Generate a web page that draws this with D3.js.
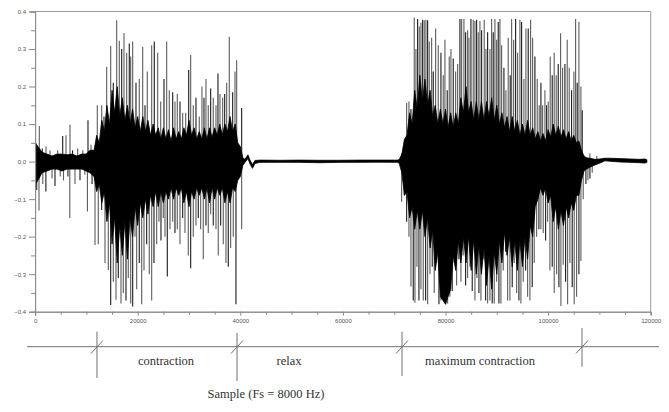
<!DOCTYPE html>
<html><head><meta charset="utf-8">
<script src="https://cdn.jsdelivr.net/npm/d3@7"></script>
<style>html,body{margin:0;padding:0;background:#fff;}svg{display:block;}</style>
</head><body>
<svg id="chart" width="669" height="412"></svg>
<script>
// ---------- DATA ----------
const xTickValues = [0, 20000, 40000, 60000, 80000, 100000, 120000];
const xMinorTicks = [5000,10000,15000,25000,30000,35000,45000,50000,55000,65000,70000,75000,85000,90000,95000,105000,110000,115000];
const yTickValues = [-0.4,-0.3,-0.2,-0.1,0.0,0.1,0.2,0.3,0.4];
const yMinorTicks = [-0.35,-0.25,-0.15,-0.05,0.05,0.15,0.25,0.35];

// dense black band of the signal, read region by region: sample, top, bottom
const restCoreX = [78,565,1345,2320,3294,4269,5243,6218,7192,8167,9141,9921,10700,11100];
const restCoreTop = [0.05,0.04,0.025,0.02,0.015,0.02,0.02,0.018,0.02,0.015,0.02,0.02,0.03,0.03];
const restCoreBot = [-0.06,-0.05,-0.03,-0.025,-0.02,-0.02,-0.025,-0.02,-0.02,-0.02,-0.02,-0.025,-0.03,-0.035];

const contrCoreX = [11500,12000,12500,13000,13500,14000,14500,15000,15500,16000,16500,17000,17500,18000,18500,19000,19500,20000,20500,21000,21500,22000,22500,23000,23500,24000,24500,25000,25500,26000,26500,27000,27500,28000,28500,29000,29500,30000,30500,31000,31500,32000,32500,33000,33500,34000,34500,35000,35500,36000,36500,37000,37500,38000,38500,39000,39500,40000,40500];
const contrCoreTop = [0.03,0.07,0.05,0.11,0.08,0.15,0.1,0.19,0.13,0.2,0.12,0.17,0.11,0.15,0.1,0.14,0.09,0.12,0.08,0.12,0.08,0.11,0.07,0.1,0.07,0.09,0.06,0.09,0.06,0.085,0.055,0.09,0.06,0.08,0.06,0.09,0.07,0.11,0.07,0.09,0.06,0.08,0.06,0.09,0.06,0.09,0.065,0.09,0.07,0.1,0.07,0.1,0.08,0.12,0.08,0.1,0.05,0.04,0.01];
const contrCoreBot = [-0.04,-0.08,-0.06,-0.11,-0.08,-0.16,-0.11,-0.22,-0.15,-0.27,-0.17,-0.25,-0.16,-0.26,-0.15,-0.2,-0.12,-0.17,-0.11,-0.15,-0.1,-0.14,-0.09,-0.12,-0.08,-0.12,-0.08,-0.11,-0.08,-0.1,-0.07,-0.1,-0.07,-0.09,-0.07,-0.11,-0.08,-0.12,-0.08,-0.1,-0.07,-0.09,-0.07,-0.1,-0.07,-0.11,-0.07,-0.1,-0.07,-0.09,-0.07,-0.11,-0.08,-0.11,-0.07,-0.08,-0.05,-0.04,-0.01];

const relaxCoreX = [40910,41495,41884,42372,42859,43833,47731,51629,55527,59425,63323,67221,70729];
const relaxCoreTop = [0.006,0.018,0.004,-0.008,0.003,0.004,0.0035,0.004,0.0035,0.0035,0.004,0.004,0.004];
const relaxCoreBot = [-0.002,0.008,-0.006,-0.018,-0.005,-0.002,-0.002,-0.002,-0.003,-0.002,-0.002,-0.0015,-0.002];

const maxCoreX = [71000,71500,72000,72500,73000,73500,74000,74500,75000,75500,76000,76500,77000,77500,78000,78500,79000,79500,80000,80500,81000,81500,82000,82500,83000,83500,84000,84500,85000,85500,86000,86500,87000,87500,88000,88500,89000,89500,90000,90500,91000,91500,92000,92500,93000,93500,94000,94500,95000,95500,96000,96500,97000,97500,98000,98500,99000,99500,100000,100500,101000,101500,102000,102500,103000,103500,104000,104500,105000,105500,106000,106500,107000];
const maxCoreTop = [0.006,0.02,0.06,0.07,0.13,0.1,0.19,0.14,0.23,0.16,0.22,0.15,0.19,0.12,0.15,0.1,0.14,0.1,0.14,0.09,0.13,0.09,0.13,0.1,0.17,0.13,0.2,0.13,0.16,0.11,0.16,0.11,0.16,0.11,0.16,0.12,0.17,0.11,0.15,0.1,0.13,0.09,0.12,0.08,0.12,0.08,0.11,0.07,0.1,0.07,0.11,0.07,0.09,0.06,0.08,0.055,0.075,0.055,0.085,0.065,0.1,0.07,0.095,0.065,0.085,0.06,0.08,0.055,0.07,0.05,0.055,0.03,0.015];
const maxCoreBot = [-0.006,-0.03,-0.09,-0.08,-0.15,-0.12,-0.18,-0.13,-0.18,-0.13,-0.2,-0.15,-0.23,-0.18,-0.29,-0.24,-0.36,-0.37,-0.38,-0.36,-0.34,-0.25,-0.29,-0.21,-0.27,-0.2,-0.27,-0.2,-0.29,-0.21,-0.3,-0.22,-0.3,-0.23,-0.33,-0.25,-0.34,-0.24,-0.3,-0.21,-0.27,-0.19,-0.25,-0.2,-0.28,-0.21,-0.29,-0.21,-0.28,-0.2,-0.26,-0.17,-0.2,-0.12,-0.1,-0.07,-0.09,-0.07,-0.11,-0.09,-0.16,-0.12,-0.18,-0.13,-0.17,-0.12,-0.15,-0.11,-0.13,-0.09,-0.09,-0.05,-0.025];

const tailCoreX = [107500,108149,109124,110098,111073,112048,113997,115946,117895,118869,119259];
const tailCoreTop = [0.01,0.009,0.006,0.007,0.009,0.009,0.008,0.007,0.006,0.007,0.005];
const tailCoreBot = [-0.02,-0.015,-0.009,-0.004,0.002,0.001,-0.001,-0.002,-0.003,-0.004,-0.002];

// individual spikes before the first contraction
const restSpikeX = [312,760,819,1400,1500,2124,2100,2900,3300,3879,4400,4900,5379,5535,6022,6400,6802,6760,7300,7776,8300,8751,9300,9700,10310,10200,10900,11100];
const restSpikeV = [-0.076,-0.13,0.095,0.035,-0.06,0.04,-0.08,0.03,-0.045,-0.065,0.03,-0.04,0.068,-0.05,0.07,-0.04,0.098,-0.15,0.03,-0.06,0.035,-0.05,0.03,-0.035,0.11,-0.133,0.045,-0.06];

// contraction burst: positive peaks
const contrUpX = [12123,12980,13429,13955,14734,15241,15904,16411,16878,17327,17853,18360,18632,19022,19666,20309,20971,21420,21868,22725,23232,23895,24480,25122,25649,26156,26818,27266,27715,28241,28767,29352,29937,30326,30833,31359,32003,32529,32919,33308,33757,34225,34731,35258,35647,36037,36563,36953,37343,37850,38512,38961,39292,40266];
const contrUpV = [0.15,0.15,0.12,0.253,0.308,0.21,0.377,0.322,0.30,0.343,0.29,0.315,0.28,0.32,0.21,0.22,0.306,0.15,0.24,0.31,0.32,0.29,0.16,0.22,0.32,0.19,0.185,0.16,0.18,0.16,0.13,0.13,0.244,0.284,0.15,0.17,0.12,0.20,0.17,0.22,0.15,0.195,0.17,0.15,0.235,0.18,0.17,0.18,0.21,0.333,0.185,0.24,0.27,0.143];
// contraction burst: negative peaks
const contrDownX = [11675,12318,12980,13624,14267,14734,15241,15767,16216,16742,17190,17717,18165,18632,19022,19471,19802,20309,20776,21225,21751,22257,22725,23174,23700,24148,24538,24986,25318,25766,26292,26818,27266,27715,28241,28767,29216,29859,30326,30833,31359,31808,32275,32782,33308,33757,34225,34731,35258,35706,36173,36680,37206,37655,38122,38629,39155,40266];
const contrDownV = [-0.222,-0.22,-0.129,-0.27,-0.289,-0.382,-0.32,-0.368,-0.31,-0.378,-0.35,-0.37,-0.31,-0.378,-0.386,-0.20,-0.34,-0.27,-0.38,-0.29,-0.22,-0.30,-0.37,-0.27,-0.22,-0.16,-0.21,-0.15,-0.20,-0.306,-0.18,-0.16,-0.19,-0.18,-0.22,-0.15,-0.19,-0.25,-0.284,-0.20,-0.17,-0.15,-0.18,-0.26,-0.17,-0.19,-0.14,-0.17,-0.18,-0.25,-0.17,-0.22,-0.27,-0.28,-0.23,-0.20,-0.38,-0.18];

// maximum contraction burst: positive peaks
const maxUpX = [71450,71957,72425,72873,73263,73906,74237,74569,74881,75212,75543,75855,76186,76518,76830,77297,77609,78077,78584,79110,79558,79890,80338,80728,81059,81507,81975,82365,82813,83144,83593,83924,84314,84567,84957,85405,85737,86068,86380,86711,87042,87549,87880,88212,88660,88991,89303,89635,89966,90278,90609,90940,91389,91778,92227,92616,92889,93279,93669,94059,94507,94838,95287,95676,96125,96593,96982,97431,97879,98269,98600,98931,99380,99711,100023,100412,100802,101192,101582,101972,102439,102829,103278,103726,104116,104583,105031,105363,105675,106006,106396,106649];
const maxUpV = [0.023,0.04,0.156,0.16,0.14,0.384,0.30,0.38,0.36,0.37,0.378,0.377,0.378,0.377,0.32,0.33,0.24,0.355,0.31,0.29,0.23,0.325,0.19,0.28,0.30,0.275,0.24,0.26,0.38,0.38,0.38,0.345,0.35,0.33,0.38,0.378,0.375,0.378,0.345,0.375,0.35,0.378,0.30,0.345,0.30,0.38,0.345,0.38,0.325,0.372,0.38,0.31,0.25,0.19,0.33,0.23,0.38,0.325,0.38,0.29,0.378,0.372,0.22,0.355,0.355,0.378,0.33,0.28,0.22,0.15,0.21,0.15,0.19,0.15,0.16,0.28,0.23,0.29,0.23,0.26,0.342,0.25,0.26,0.325,0.25,0.19,0.24,0.38,0.21,0.372,0.2,0.137];
// maximum contraction burst: negative peaks
const maxDownX = [71450,71957,72425,72873,73263,73711,74043,74432,74822,75212,75660,76128,76518,76966,77414,77804,78272,78720,79110,79558,80026,80416,80864,81312,81702,82170,82618,83008,83456,83924,84314,84762,85210,85737,86126,86516,86906,87354,87822,88212,88660,89108,89498,89966,90414,90804,91252,91720,92110,92558,93006,93396,93864,94312,94702,95150,95618,96008,96456,96904,97294,97762,98210,98600,99048,99516,99906,100354,100802,101192,101660,102108,102498,102946,103414,103804,104252,104700,105090,105558,106006,106396,106844];
const maxDownV = [-0.107,-0.09,-0.16,-0.2,-0.333,-0.37,-0.376,-0.28,-0.37,-0.34,-0.37,-0.37,-0.38,-0.3,-0.28,-0.35,-0.27,-0.38,-0.37,-0.335,-0.38,-0.378,-0.36,-0.345,-0.27,-0.33,-0.26,-0.32,-0.25,-0.33,-0.31,-0.28,-0.345,-0.37,-0.31,-0.35,-0.37,-0.26,-0.37,-0.378,-0.37,-0.378,-0.378,-0.32,-0.378,-0.378,-0.29,-0.24,-0.37,-0.37,-0.335,-0.27,-0.35,-0.37,-0.378,-0.32,-0.29,-0.36,-0.37,-0.335,-0.27,-0.2,-0.18,-0.18,-0.19,-0.21,-0.16,-0.29,-0.28,-0.35,-0.3,-0.335,-0.385,-0.275,-0.32,-0.38,-0.27,-0.335,-0.38,-0.36,-0.3,-0.265,-0.1];

// small spikes after the maximum contraction
const tailSpikeX = [107370,107760,108150,108150,108600,109500];
const tailSpikeV = [-0.06,-0.05,0.022,-0.045,-0.03,0.015];

// phase annotation below the chart
const phaseBoundaries = [12060, 39360, 71520, 106610];
const phaseLabels = ["contraction", "relax", "maximum contraction"];
const xAxisTitle = "Sample (Fs = 8000 Hz)";

// ---------- DRAW ----------
const svg = d3.select("#chart");
svg.append("rect").attr("width",669).attr("height",412).attr("fill","#fff");

const x = d3.scaleLinear().domain([0,120000]).range([35.1, 650.7]);
const y = d3.scaleLinear().domain([-0.4,0.4]).range([311.7, 11.5]);

// frame (top/right)
svg.append("path")
  .attr("d", `M${x(0)},${y(0.4)}H${x(120000)}V${y(-0.4)}`)
  .attr("fill","none").attr("stroke","#9a9a9a").attr("stroke-width",1);

// spikes
const spikes = [];
[[restSpikeX,restSpikeV],[contrUpX,contrUpV],[contrDownX,contrDownV],[maxUpX,maxUpV],[maxDownX,maxDownV],[tailSpikeX,tailSpikeV]]
  .forEach(([xs,vs]) => xs.forEach((s,i) => spikes.push({s, v: vs[i]})));

svg.append("g").selectAll("line").data(spikes).join("line")
  .attr("x1", d => x(d.s)).attr("x2", d => x(d.s))
  .attr("y1", y(0)).attr("y2", d => y(d.v))
  .attr("stroke", (d,i) => i % 3 === 0 ? "#1a1a1a" : "#5c5c5c")
  .attr("stroke-width", 1.1);

// dense core
const core = [];
[[restCoreX,restCoreTop,restCoreBot],[contrCoreX,contrCoreTop,contrCoreBot],[relaxCoreX,relaxCoreTop,relaxCoreBot],[maxCoreX,maxCoreTop,maxCoreBot],[tailCoreX,tailCoreTop,tailCoreBot]]
  .forEach(([xs,ts,bs]) => xs.forEach((s,i) => core.push({s, t: ts[i], b: bs[i]})));
svg.append("path").datum(core)
  .attr("d", d3.area().x(d => x(d.s)).y0(d => y(d.b)).y1(d => y(d.t)))
  .attr("fill","#000").attr("stroke","#000").attr("stroke-width",0.8).attr("stroke-linejoin","miter");

// Y axis
const axisFont = "Liberation Sans, Arial, sans-serif";
const yAxis = svg.append("g").attr("transform",`translate(${x(0)},0)`)
  .call(d3.axisLeft(y).tickValues(yTickValues).tickSize(6).tickFormat(d3.format(".1f")));
const yMinor = svg.append("g").attr("transform",`translate(${x(0)},0)`)
  .call(d3.axisLeft(y).tickValues(yMinorTicks).tickSize(4).tickFormat(""));
[yAxis,yMinor].forEach(g => { g.selectAll(".domain").attr("stroke","#8a8a8a"); g.selectAll("line").attr("stroke","#8a8a8a"); });
yAxis.selectAll("text").attr("font-family",axisFont).attr("font-size",6).attr("fill","#555").attr("x",-9);

// X axis
const xAxis = svg.append("g").attr("transform",`translate(0,${y(-0.4)})`)
  .call(d3.axisBottom(x).tickValues(xTickValues).tickSize(4).tickFormat(d3.format("d")));
const xMinor = svg.append("g").attr("transform",`translate(0,${y(-0.4)})`)
  .call(d3.axisBottom(x).tickValues(xMinorTicks).tickSize(3).tickFormat(""));
[xAxis,xMinor].forEach(g => { g.selectAll(".domain").attr("stroke","#8a8a8a"); g.selectAll("line").attr("stroke","#8a8a8a"); });
xAxis.selectAll("text").attr("font-family",axisFont).attr("font-size",6).attr("fill","#555").attr("y",7);

// phase annotation
const ann = svg.append("g").attr("stroke","#707070").attr("stroke-width",1).attr("fill","none");
ann.append("line").attr("x1",27).attr("x2",659).attr("y1",346.7).attr("y2",346.7);
const divTop = [331.7, 333, 331.7, 328];
const divBot = [378, 381, 376, 366.7];
phaseBoundaries.forEach((s,i) => {
  const px = x(s);
  ann.append("line").attr("x1",px).attr("x2",px).attr("y1",divTop[i]).attr("y2",divBot[i]);
  ann.append("line").attr("x1",px-6).attr("x2",px+6).attr("y1",353.5).attr("y2",340.5);
});
const labelCenters = [166, 289, 480];
phaseLabels.forEach((t,i) => {
  svg.append("text")
    .attr("x", labelCenters[i])
    .attr("y", 364.5)
    .attr("text-anchor","middle")
    .attr("font-family","Liberation Serif, Times New Roman, serif")
    .attr("font-size",12.5).attr("fill","#333").text(t);
});
svg.append("text").attr("x",266).attr("y",397.5).attr("text-anchor","middle")
  .attr("font-family","Liberation Serif, Times New Roman, serif")
  .attr("font-size",12.5).attr("fill","#333").text(xAxisTitle);
</script>
</body></html>
